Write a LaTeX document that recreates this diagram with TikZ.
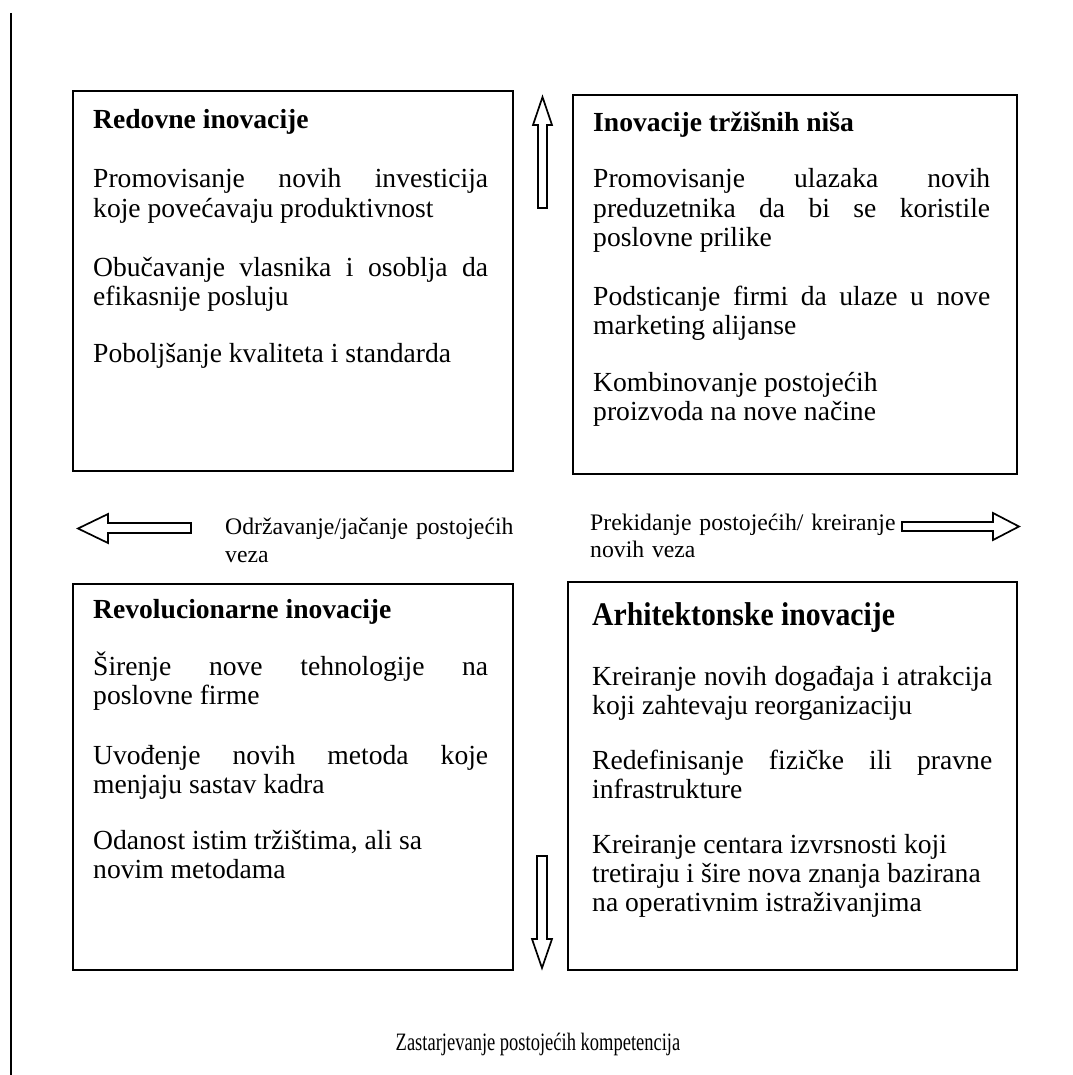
\documentclass[tikz,border=0pt]{standalone}
\usepackage{fontspec}
\setmainfont{Liberation Serif}
\newfontfamily\btmfont{Liberation Serif}[FakeStretch=0.74]
\newfontfamily\bigttlfont{Liberation Serif}[FakeStretch=0.9]
\begin{document}
\begin{tikzpicture}[x=1pt,y=-1pt,
  box/.style={draw, line width=1.8pt, anchor=north west, inner sep=0pt},
  txt/.style={anchor=base west, inner sep=0pt, text width=#1, align=justify,
    font=\fontsize{27.6}{29.4}\selectfont},
  txt/.default=395pt,
  ttl/.style={anchor=base west, inner sep=0pt, font=\fontsize{27.6}{29.4}\selectfont\bfseries},
  lbl/.style={anchor=base west, inner sep=0pt, text width=330pt, align=left,
    font=\fontsize{23.7}{28}\selectfont},
  blockarrow/.style={draw, line width=1.7pt, fill=white, line join=miter}
]
\useasboundingbox (0,0) rectangle (1072,1075);
\fill[white] (0,0) rectangle (1072,1075);
\hyphenpenalty=10000
\hbadness=10000
\emergencystretch=20pt

% left margin line
\coordinate (lt) at (10.7,13);
\coordinate (lb) at (10.7,1075);
\draw[line width=1.6pt] (lt) -- (lb);

% boxes
\node[box, minimum width=440pt, minimum height=380pt] (box1) at (71.7,90) {};
\node[box, minimum width=444pt, minimum height=379pt] (box2) at (572,94) {};
\node[box, minimum width=440pt, minimum height=386pt] (box3) at (71.7,583) {};
\node[box, minimum width=449pt, minimum height=388pt] (box4) at (567,581) {};

% box 1
\node[ttl] (t1) at (93,129) {Redovne inovacije};
\node[txt] (p11) at (93,188) {Promovisanje novih investicija\linebreak koje povećavaju produktivnost};
\node[txt] (p12) at (93,276) {Obučavanje vlasnika i osoblja da\linebreak efikasnije posluju};
\node[txt] (p13) at (93,362) {Poboljšanje kvaliteta i standarda};

% box 2
\node[ttl] (t2) at (593,132) {Inovacije tržišnih niša};
\node[txt=397pt] (p21) at (593,188) {Promovisanje ulazaka novih\linebreak preduzetnika da bi se koristile\linebreak poslovne prilike};
\node[txt=397pt] (p22) at (593,305) {Podsticanje firmi da ulaze u nove\linebreak marketing alijanse};
\node[txt=397pt] (p23) at (593,391) {Kombinovanje postojećih\\proizvoda na nove načine};

% box 3
\node[ttl] (t3) at (93,618) {Revolucionarne inovacije};
\node[txt] (p31) at (93,675) {Širenje nove tehnologije na\linebreak poslovne firme};
\node[txt] (p32) at (93,764) {Uvođenje novih metoda koje\linebreak menjaju sastav kadra};
\node[txt] (p33) at (93,849) {Odanost istim tržištima, ali sa\\novim metodama};

% box 4
\node[anchor=base west, inner sep=0pt, font=\bigttlfont\fontsize{33}{34}\selectfont\bfseries] (t4) at (592,625) {Arhitektonske inovacije};
\node[txt=400pt] (p41) at (592,685) {Kreiranje novih događaja i atrakcija\linebreak koji zahtevaju reorganizaciju};
\node[txt=400pt] (p42) at (592,769) {Redefinisanje fizičke ili pravne\linebreak infrastrukture};
\node[txt=400pt] (p43) at (592,853) {Kreiranje centara izvrsnosti koji\\tretiraju i šire nova znanja bazirana\\na operativnim istraživanjima};

% middle labels
\node[lbl] (l1) at (225,534) {Održavanje/jačanje postojećih\\veza};
\node[lbl, font=\fontsize{23.7}{27}\selectfont] (l2) at (590,530) {Prekidanje postojećih/ kreiranje\\novih veza};

% bottom label
\node[anchor=base, inner sep=0pt, font=\btmfont\fontsize{25}{28}\selectfont] (bt) at (538,1050) {Zastarjevanje postojećih kompetencija};

% block arrows
\draw[blockarrow] (538,208) -- (538,125) -- (533,125) -- (542.5,97) -- (552,125) -- (547,125) -- (547,208) -- cycle;
\draw[blockarrow] (537,856) -- (537,939) -- (532,939) -- (542,968) -- (552,939) -- (547,939) -- (547,856) -- cycle;
\draw[blockarrow] (191,523) -- (108,523) -- (108,514) -- (78,528.5) -- (108,543) -- (108,533) -- (191,533) -- cycle;
\draw[blockarrow] (902,522) -- (993,522) -- (993,513) -- (1019,526.5) -- (993,540) -- (993,531) -- (902,531) -- cycle;
\end{tikzpicture}
\end{document}
